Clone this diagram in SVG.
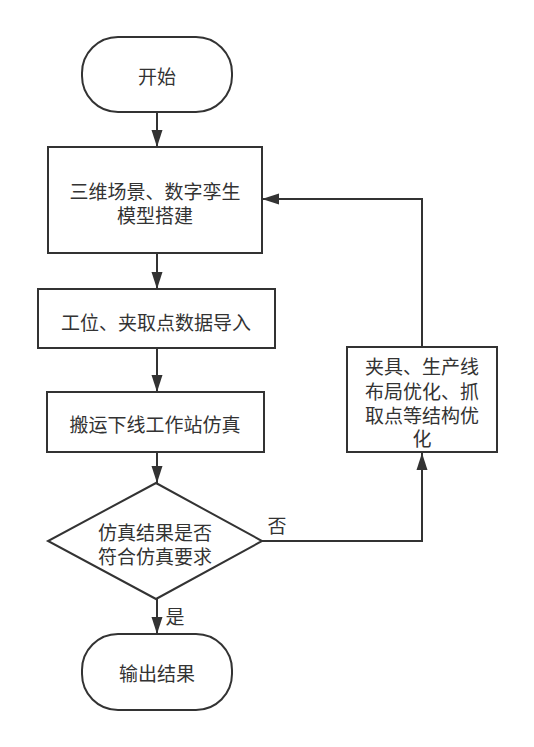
<svg xmlns="http://www.w3.org/2000/svg" width="534" height="747" viewBox="0 0 534 747">
<style>
.n{fill:#fff;stroke:#333;stroke-width:2}
.t{font-family:"Noto Sans CJK SC","Noto Sans",sans-serif;font-size:19px;fill:#333;text-anchor:middle;dominant-baseline:central}
.c{fill:none;stroke:#333;stroke-width:2}
</style>
<defs>
<marker id="a" markerUnits="userSpaceOnUse" markerWidth="18" markerHeight="12" refX="17" refY="6" orient="auto">
<path d="M0,0.5 L17,6 L0,11.5 z" fill="#333"/>
</marker>
</defs>
<rect width="534" height="747" fill="#fff"/>
<g id="connectors">
<path class="c" d="M157,112 V147" marker-end="url(#a)"/>
<path class="c" d="M157,253 V289" marker-end="url(#a)"/>
<path class="c" d="M157,348 V392" marker-end="url(#a)"/>
<path class="c" d="M157,452 V483" marker-end="url(#a)"/>
<path class="c" d="M157,599 V634" marker-end="url(#a)"/>
<path class="c" d="M262,541 H422 V453" marker-end="url(#a)"/>
<path class="c" d="M422,347 V199 H262" marker-end="url(#a)"/>
<text class="t" x="277" y="524">否</text>
<text class="t" x="175" y="615">是</text>
</g>
<g id="start">
<rect class="n" x="82" y="37" width="150" height="75" rx="36" ry="36"/>
<text class="t" x="157" y="75">开始</text>
</g>
<g id="model">
<rect class="n" x="48" y="147" width="214" height="106"/>
<text class="t" x="155" y="190">三维场景、数字孪生</text>
<text class="t" x="155" y="214">模型搭建</text>
</g>
<g id="import">
<rect class="n" x="38" y="289" width="237" height="59"/>
<text class="t" x="156" y="321">工位、夹取点数据导入</text>
</g>
<g id="sim">
<rect class="n" x="47" y="392" width="217" height="60"/>
<text class="t" x="155" y="423">搬运下线工作站仿真</text>
</g>
<g id="decision">
<path class="n" d="M156,483 L262,541 L156,599 L48,541 Z"/>
<text class="t" x="155" y="531">仿真结果是否</text>
<text class="t" x="155" y="555">符合仿真要求</text>
</g>
<g id="optimize">
<rect class="n" x="347" y="347" width="150" height="105"/>
<text class="t" x="422" y="365">夹具、生产线</text>
<text class="t" x="422" y="390">布局优化、抓</text>
<text class="t" x="422" y="414">取点等结构优</text>
<text class="t" x="422" y="437">化</text>
</g>
<g id="end">
<rect class="n" x="82" y="634" width="150" height="76" rx="36" ry="36"/>
<text class="t" x="157" y="672">输出结果</text>
</g>
</svg>
